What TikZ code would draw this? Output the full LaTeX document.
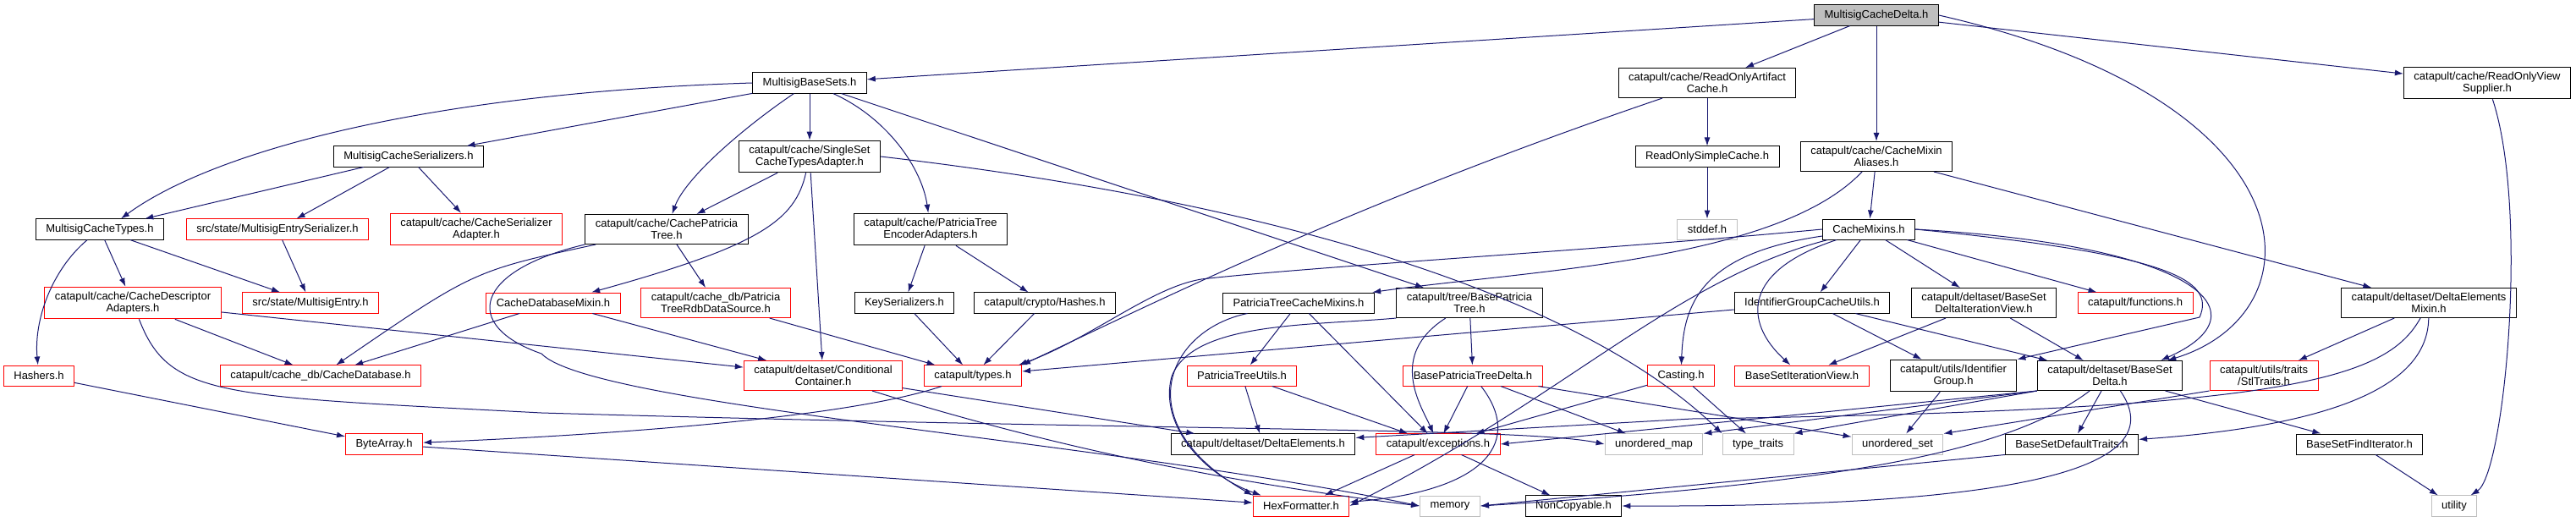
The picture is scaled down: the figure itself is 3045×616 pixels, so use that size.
\documentclass[tikz,border=0pt]{standalone}
\usepackage{fontspec}
\setmainfont{Liberation Sans}
\usetikzlibrary{arrows.meta}
\definecolor{edge}{RGB}{25,25,112}
\definecolor{sysbd}{RGB}{191,191,191}
\definecolor{rootfill}{RGB}{191,191,191}
\tikzset{
  hdr/.style={rectangle,draw=black,fill=white,line width=1pt,align=center,
    inner xsep=12pt,inner ysep=6pt,minimum height=24pt,
    font=\fontsize{13}{13.5}\selectfont},
  hdrred/.style={hdr,draw=red},
  syshdr/.style={hdr,draw=sysbd},
  roothdr/.style={hdr,fill=rootfill},
  dep/.style={-{Latex[length=10pt,width=7pt]},draw=edge,line width=1pt},
}
\begin{document}
\begin{tikzpicture}[x=1pt,y=-1pt]
\useasboundingbox (0,0) rectangle (3045,616);

% row 0 and 1
\node[roothdr] (root) at (2218,18) {MultisigCacheDelta.h};
\node[hdr] (mbs) at (957,98) {MultisigBaseSets.h};
\node[hdr] (roac) at (2018,98) {catapult/cache/ReadOnlyArtifact\\Cache.h};
\node[hdr] (rovs) at (2940,98) {catapult/cache/ReadOnlyView\\Supplier.h};

% row 2
\node[hdr] (mcser) at (483,185) {MultisigCacheSerializers.h};
\node[hdr] (sscta) at (957,185) {catapult/cache/SingleSet\\CacheTypesAdapter.h};
\node[hdr] (rosc) at (2018,185) {ReadOnlySimpleCache.h};
\node[hdr] (cmal) at (2218,185) {catapult/cache/CacheMixin\\Aliases.h};

% row 3
\node[hdr] (mctypes) at (118,271) {MultisigCacheTypes.h};
\node[hdrred] (mesr) at (328,271) {src/state/MultisigEntrySerializer.h};
\node[hdrred] (csa) at (563,271) {catapult/cache/CacheSerializer\\Adapter.h};
\node[hdr] (cpt) at (788,271) {catapult/cache/CachePatricia\\Tree.h};
\node[hdr] (ptea) at (1100,271) {catapult/cache/PatriciaTree\\EncoderAdapters.h};
\node[syshdr] (stddef) at (2018,271) {stddef.h};
\node[hdr] (cmix) at (2209,271) {CacheMixins.h};

% row 4
\node[hdrred] (cda) at (157,358) {catapult/cache/CacheDescriptor\\Adapters.h};
\node[hdrred] (ment) at (367,358) {src/state/MultisigEntry.h};
\node[hdrred] (cdbm) at (654,358) {CacheDatabaseMixin.h};
\node[hdrred] (rdb) at (846,358) {catapult/cache\_db/Patricia\\TreeRdbDataSource.h};
\node[hdr] (keyser) at (1069,358) {KeySerializers.h};
\node[hdr] (hashes) at (1235,358) {catapult/crypto/Hashes.h};
\node[hdr] (ptcm) at (1535,358) {PatriciaTreeCacheMixins.h};
\node[hdr] (bpt) at (1737,358) {catapult/tree/BasePatricia\\Tree.h};
\node[hdr] (igcu) at (2142,358) {IdentifierGroupCacheUtils.h};
\node[hdr] (bsdiv) at (2345,358) {catapult/deltaset/BaseSet\\DeltaIterationView.h};
\node[hdrred] (funcs) at (2524,358) {catapult/functions.h};
\node[hdr] (demix) at (2871,358) {catapult/deltaset/DeltaElements\\Mixin.h};

% row 5
\node[hdrred] (hashers) at (46,444) {Hashers.h};
\node[hdrred] (cdb) at (379,444) {catapult/cache\_db/CacheDatabase.h};
\node[hdrred] (cond) at (973,444) {catapult/deltaset/Conditional\\Container.h};
\node[hdrred] (types) at (1150,444) {catapult/types.h};
\node[hdrred] (ptu) at (1468,444) {PatriciaTreeUtils.h};
\node[hdrred] (bptd) at (1741,444) {BasePatriciaTreeDelta.h};
\node[hdrred] (casting) at (1987,444) {Casting.h};
\node[hdrred] (bsiv) at (2130,444) {BaseSetIterationView.h};
\node[hdr] (idg) at (2309,444) {catapult/utils/Identifier\\Group.h};
\node[hdr] (bsd) at (2494,444) {catapult/deltaset/BaseSet\\Delta.h};
\node[hdrred] (stl) at (2676,444) {catapult/utils/traits\\/StlTraits.h};

% row 6
\node[hdrred] (bytearr) at (454,525) {ByteArray.h};
\node[hdr] (delem) at (1493,525) {catapult/deltaset/DeltaElements.h};
\node[hdrred] (exc) at (1700,525) {catapult/exceptions.h};
\node[syshdr] (umap) at (1955,525) {unordered\_map};
\node[syshdr] (ttraits) at (2078,525) {type\_traits};
\node[syshdr] (uset) at (2243,525) {unordered\_set};
\node[hdr] (bsdt) at (2449,525) {BaseSetDefaultTraits.h};
\node[hdr] (bsfi) at (2789,525) {BaseSetFindIterator.h};

% row 7
\node[hdrred] (hexf) at (1538,598) {HexFormatter.h};
\node[syshdr] (memory) at (1714,598) {memory};
\node[hdr] (noncp) at (1860,598) {NonCopyable.h};
\node[syshdr] (utility) at (2901,598) {utility};

% --- from the root ---
\draw[dep] (root) -- (mbs);
\draw[dep] (root) -- (roac);
\draw[dep] (root) -- (cmal);
\draw[dep] (root) -- (rovs);
\draw[dep] (root.east) .. controls (2740,120) and (2745,370) .. ([xshift=-18pt]bsd.north east);

% --- MultisigBaseSets.h ---
\draw[dep] (mbs.west) .. controls (500,110) and (250,180) .. ([xshift=25pt]mctypes.north);
\draw[dep] (mbs) -- (mcser);
\draw[dep] (mbs) .. controls (880,150) and (810,210) .. (cpt);
\draw[dep] (mbs) -- (sscta);
\draw[dep] (mbs) .. controls (1050,140) and (1090,200) .. (ptea);
\draw[dep] (mbs) -- (bpt);
\draw[dep] (mcser) -- (mctypes);
\draw[dep] (mcser) -- (mesr);
\draw[dep] (mcser) -- (csa);

% --- cache adapters ---
\draw[dep] (sscta) -- (cpt);
\draw[dep] (sscta) .. controls (940,260) and (900,290) .. (cdbm);
\draw[dep] (sscta) -- (cond);
\draw[dep] (sscta.east) .. controls (1600,250) and (1900,380) .. (ttraits.north west);
\draw[dep] (cpt) .. controls (560,320) .. (cdb);
\draw[dep] (cpt) -- (rdb);
\draw[dep] (cpt.south west) .. controls (560,320) and (545,385) .. (640,418) .. controls (700,480) and (1300,520) .. (memory.west);
\draw[dep] (mctypes) .. controls (60,320) and (40,380) .. (hashers);
\draw[dep] (mctypes) -- (cda);
\draw[dep] (mctypes) -- (ment);
\draw[dep] (mesr) -- (ment);
\draw[dep] (cda) -- (cdb);
\draw[dep] (cda) -- (cond);
\draw[dep] (cda) .. controls (200,470) and (260,468) .. (640,488) .. controls (1400,510) and (1800,505) .. (umap.west);
\draw[dep] (cdbm) -- (cdb);
\draw[dep] (cdbm) -- (cond);
\draw[dep] (rdb) -- (types);
\draw[dep] (cond) -- (delem);
\draw[dep] (cond) .. controls (1250,530) and (1450,570) .. (memory.west);
\draw[dep] (ptea) -- (keyser);
\draw[dep] (ptea) -- (hashes);
\draw[dep] (keyser) -- (types);
\draw[dep] (hashes) -- (types);
\draw[dep] (types) .. controls (1000,495) and (700,515) .. (bytearr);
\draw[dep] (hashers) -- (bytearr);
\draw[dep] (bytearr) -- (hexf);

% --- read only caches ---
\draw[dep] (roac) -- (rosc);
\draw[dep] (rosc) -- (stddef);
\draw[dep] (roac) .. controls (1600,240) and (1360,360) .. (types.north east);
\draw[dep] (rovs) .. controls (2990,250) and (2960,560) .. (utility);

% --- mixins ---
\draw[dep] (cmal) -- (cmix);
\draw[dep] (cmal) -- (demix);
\draw[dep] (cmal) .. controls (2100,310) and (1800,320) .. (ptcm);
\draw[dep] (cmix.west) .. controls (1900,295) and (1550,315) .. (1420,330) .. controls (1360,340) and (1290,400) .. ([xshift=-4pt]types.north east);
\draw[dep] (cmix) -- (igcu);
\draw[dep] (cmix) -- (bsdiv);
\draw[dep] (cmix) -- (funcs);
\draw[dep] (cmix.east) .. controls (2560,300) and (2620,330) .. (2600,375) -- (idg.north east);
\draw[dep] (cmix.east) .. controls (2600,290) and (2680,370) .. ([xshift=-26pt]bsd.north east);
\draw[dep] (cmix) .. controls (2060,320) and (2060,380) .. (bsiv);
\draw[dep] (cmix) .. controls (2010,300) and (1990,360) .. (casting);
\draw[dep] (cmix) .. controls (1980,330) and (1850,470) .. (hexf.east);

% --- patricia tree ---
\draw[dep] (ptcm) -- (ptu);
\draw[dep] (ptcm) -- (exc);
\draw[dep] (ptcm) .. controls (1380,390) and (1330,500) .. (hexf.north west);
\draw[dep] (bpt) -- (bptd);
\draw[dep] (bpt) .. controls (1640,420) and (1680,480) .. (exc);
\draw[dep] (bpt.south west) .. controls (1550,385) and (1410,380) .. (1385,445) .. controls (1370,500) and (1420,560) .. ([xshift=10pt]hexf.north west);
\draw[dep] (ptu) -- (delem);
\draw[dep] (ptu) -- (exc);
\draw[dep] (bptd) -- (exc);
\draw[dep] (bptd) .. controls (1800,520) and (1760,580) .. (hexf);
\draw[dep] (bptd) -- (umap);
\draw[dep] (bptd) -- (uset);
\draw[dep] (casting) -- (exc);
\draw[dep] (casting) -- (ttraits);

% --- delta sets ---
\draw[dep] (igcu) -- (types);
\draw[dep] (igcu) -- (idg);
\draw[dep] (igcu) -- (bsd);
\draw[dep] (bsdiv) -- (bsiv);
\draw[dep] (bsdiv) -- (bsd);
\draw[dep] (demix) -- (stl);
\draw[dep] (demix) .. controls (2870,440) and (2800,500) .. (bsdt);
\draw[dep] (demix) .. controls (2820,450) and (2700,485) .. (2000,495) -- ([yshift=-5pt]delem.north east);
\draw[dep] (stl.south west) -- (uset.north east);
\draw[dep] (idg) -- (uset);
\draw[dep] (bsd) -- (bsdt);
\draw[dep] (bsd) -- (bsfi);
\draw[dep] (bsd.south west) -- (exc.east);
\draw[dep] (bsd.south west) -- (umap.north east);
\draw[dep] (bsd.south west) -- (ttraits.north east);
\draw[dep] (bsd) .. controls (2380,530) and (2200,570) .. (memory.east);
\draw[dep] (bsd) .. controls (2560,540) and (2450,600) .. (noncp.east);
\draw[dep] (bsdt.south west) -- (memory.east);
\draw[dep] (bsfi) -- (utility);
\draw[dep] (exc) -- (hexf);
\draw[dep] (exc) -- (noncp);
\end{tikzpicture}
\end{document}
